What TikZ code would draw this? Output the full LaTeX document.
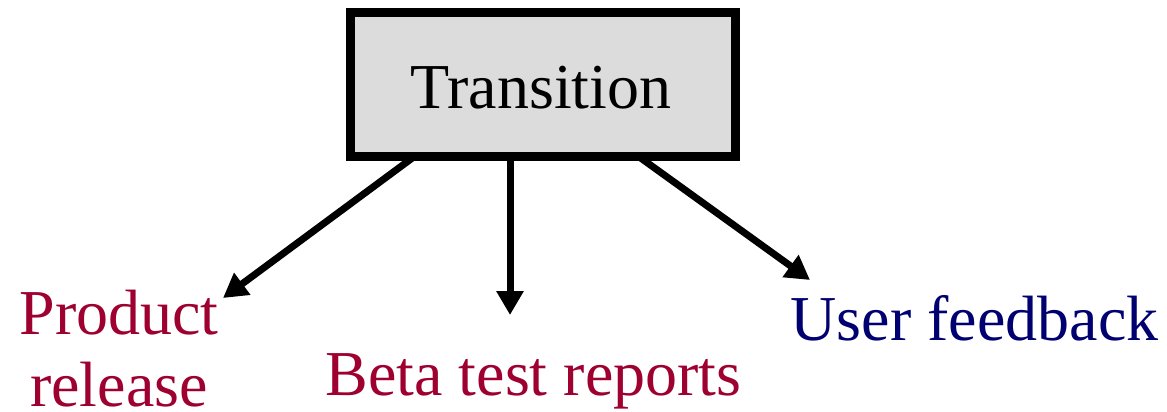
\documentclass[tikz,border=0pt]{standalone}
\usepackage{fontspec}
\setmainfont{Liberation Serif}
\usetikzlibrary{arrows.meta}
\definecolor{labelred}{HTML}{9E0030}
\definecolor{labelblue}{HTML}{000070}
\definecolor{boxgray}{HTML}{DCDCDC}
\begin{document}
\begin{tikzpicture}[x=1pt,y=-1pt,
  big/.style={font=\fontsize{64}{72}\selectfont, inner sep=0pt},
  phase/.style={big, draw=black, line width=9pt, fill=boxgray,
    minimum width=385pt, minimum height=143.5pt},
  flow/.style={line width=7pt, -{Triangle[length=24pt,width=26pt]}}]
  \useasboundingbox (0,0) rectangle (1167,412);
  \node[phase] (box) at (542.5,84.25) {};
  \node[big, anchor=base] (title) at (541,108) {Transition};
  \node[big, anchor=base, text=labelred, align=center] (prod) at (119,406) {Product\\release};
  \node[big, anchor=base, text=labelred] (beta) at (533.5,395) {Beta test reports};
  \node[big, anchor=base, text=labelblue] (user) at (974.5,340) {User feedback};
  \coordinate (tipl) at (223,298);
  \coordinate (tipm) at (510,315);
  \coordinate (tipr) at (810,280);
  \draw[flow] ([xshift=-129.5pt,yshift=3pt]box.south) -- (tipl);
  \draw[flow] ([xshift=-32.5pt,yshift=3pt]box.south) -- (tipm);
  \draw[flow] ([xshift=97.5pt,yshift=3pt]box.south) -- (tipr);
\end{tikzpicture}
\end{document}
